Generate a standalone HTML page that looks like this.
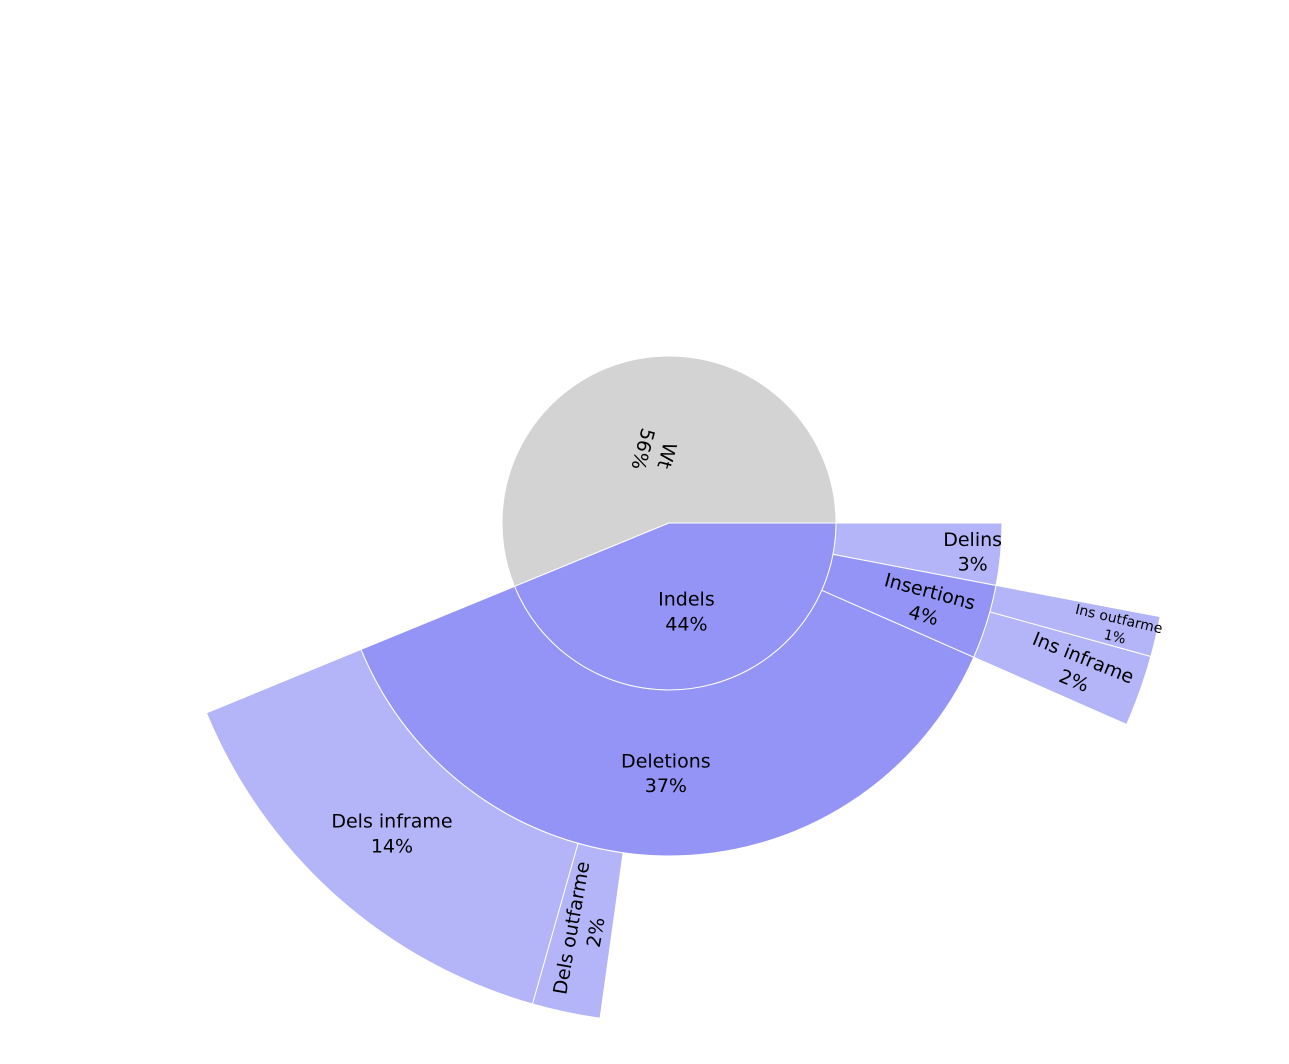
<!DOCTYPE html>
<html><head><meta charset="utf-8"><style>
html,body{margin:0;padding:0;background:#fff;}
svg{display:block;}
text{font-family:"DejaVu Sans","Liberation Sans",sans-serif;fill:#000;}
</style></head><body>
<svg id="chart" width="1289" height="1064" viewBox="0 0 1289 1064"></svg>
<script>
// data
const labels = ["Wt","Indels","Deletions","Insertions","Delins","Dels inframe","Dels outfarme","Ins inframe","Ins outfarme"];
const parents = [-1,-1,1,1,1,2,2,3,3];
const values = [56.2,43.8,37.2,3.6,3.0,14.4,2.2,2.3,1.3];
const pctText = ["56%","44%","37%","4%","3%","14%","2%","2%","1%"];
// style
const colors = ["#d3d3d3","#9494f7","#9494f7","#9494f7","#b4b4f8","#b4b4f8","#b4b4f8","#b4b4f8","#b4b4f8"];
const labelR = [72,90,250,270,305,416,416,435,460];
const labelRot = [105,0,0,15,0,0,-80,22,13];
const fontSz = [19,19,19,19,19,19,19,19,14];

const cx=669, cy=523, R=[0,167,333,500];
const svg=document.getElementById('chart');
const NS="http://www.w3.org/2000/svg";
const depth=labels.map((_,i)=>{let d=0,p=parents[i];while(p>=0){d++;p=parents[p];}return d;});
const start=[],end=[];
const cursor={};
labels.forEach((_,i)=>{
  const p=parents[i];
  if(cursor[p]===undefined) cursor[p]= p<0?0:start[p];
  start[i]=cursor[p]; end[i]=start[i]+values[i]*3.6; cursor[p]=end[i];
});
function pt(r,a){const t=a*Math.PI/180;return [cx+r*Math.cos(t),cy-r*Math.sin(t)];}
function arcPath(r0,r1,a0,a1){
  const large=(a1-a0)>180?1:0;
  const p1=pt(r1,a0),p2=pt(r1,a1);
  if(r0===0){
    return `M${cx},${cy} L${p1[0]},${p1[1]} A${r1},${r1} 0 ${large} 0 ${p2[0]},${p2[1]} Z`;
  }
  const p3=pt(r0,a1),p4=pt(r0,a0);
  return `M${p1[0]},${p1[1]} A${r1},${r1} 0 ${large} 0 ${p2[0]},${p2[1]} L${p3[0]},${p3[1]} A${r0},${r0} 0 ${large} 1 ${p4[0]},${p4[1]} Z`;
}
labels.forEach((lab,i)=>{
  const d=depth[i];
  const path=document.createElementNS(NS,'path');
  path.setAttribute('d',arcPath(R[d],R[d+1],start[i],end[i]));
  path.setAttribute('fill',colors[i]);
  path.setAttribute('stroke','#fff');
  path.setAttribute('stroke-width','1');
  
  
  svg.appendChild(path);
});
labels.forEach((lab,i)=>{
  const mid=(start[i]+end[i])/2;
  const p=pt(labelR[i],mid);
  const g=document.createElementNS(NS,'text');
  
  
  g.setAttribute('text-anchor','middle');
  g.setAttribute('font-size',fontSz[i]);
  g.setAttribute('transform',`translate(${p[0]},${p[1]}) rotate(${labelRot[i]})`);
  const t1=document.createElementNS(NS,'tspan');
  t1.setAttribute('x',0);t1.setAttribute('y',-fontSz[i]*0.3);t1.textContent=lab;
  const t2=document.createElementNS(NS,'tspan');
  t2.setAttribute('x',0);t2.setAttribute('y',fontSz[i]*1.0);t2.textContent=pctText[i];
  g.appendChild(t1);g.appendChild(t2);
  svg.appendChild(g);
});
</script>
</body></html>
